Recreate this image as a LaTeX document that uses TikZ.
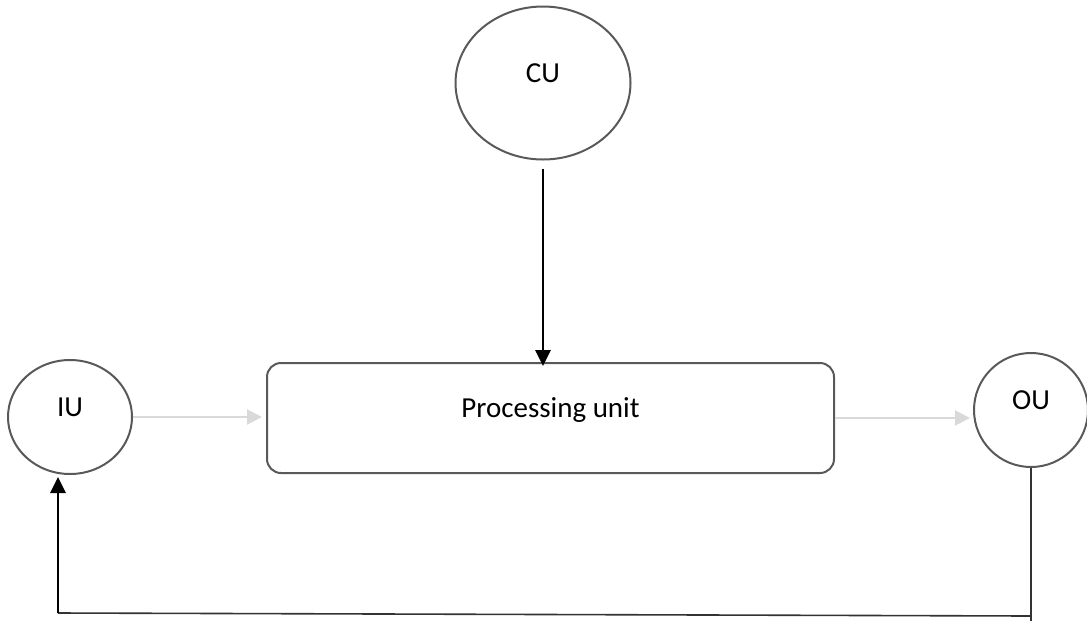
\documentclass[tikz,border=0pt]{standalone}
\usepackage{fontspec}
\setmainfont{Carlito}
\usepackage{xcolor}
\usetikzlibrary{arrows.meta,shapes.geometric}

\definecolor{edgegray}{HTML}{595959}
\definecolor{flowgray}{HTML}{D9D9D9}

\begin{document}
\begin{tikzpicture}[
	x=0.5pt, y=-0.5pt,
	every node/.style={font=\fontsize{14.5}{17}\selectfont, text height=9.3pt, text depth=10pt},
	unit/.style={draw=edgegray, line width=1pt, ellipse, inner sep=0pt},
	block/.style={draw=edgegray, line width=1pt, rounded corners=7pt, inner sep=0pt,
		minimum width=283.5pt, minimum height=55pt},
	flow/.style={draw=flowgray, line width=1pt, -{Triangle[length=7.5pt, width=7.5pt]}},
	ctrl/.style={draw=black, line width=1.4pt, -{Triangle[length=8pt, width=7.5pt]}},
	back/.style={draw=black!80, line width=0.8pt}
]
\useasboundingbox (0,0) rectangle (1087,622);

\node[unit, minimum width=87.5pt, minimum height=76.5pt] (cu) at (543,83) {CU};
\node[unit, minimum width=62pt, minimum height=57pt] (iu) at (70,417) {IU};
\node[unit, minimum width=57pt, minimum height=57pt] (ou) at (1031,410) {OU};
\node[block] (pu) at (550.5,418) {Processing unit};

\coordinate (fb-r) at (1031,616);
\coordinate (fb-l) at (58,613);
\coordinate (fb-end) at (1031,621);

\draw[ctrl, shorten <=4pt, shorten >=-2pt] (cu.south) -- (cu.south |- pu.north);
\draw[flow, shorten >=2pt] (iu.east) -- (iu.east -| pu.west);
\draw[flow, shorten >=1.5pt] (pu.east) -- (pu.east -| ou.west);

% return path from OU back to IU
\draw[back] (ou.south) -- (fb-end);
\draw[back] (fb-r) -- (fb-l);
\draw[ctrl, shorten >=1pt] (fb-l) -- (fb-l |- iu.south);
\end{tikzpicture}
\end{document}
